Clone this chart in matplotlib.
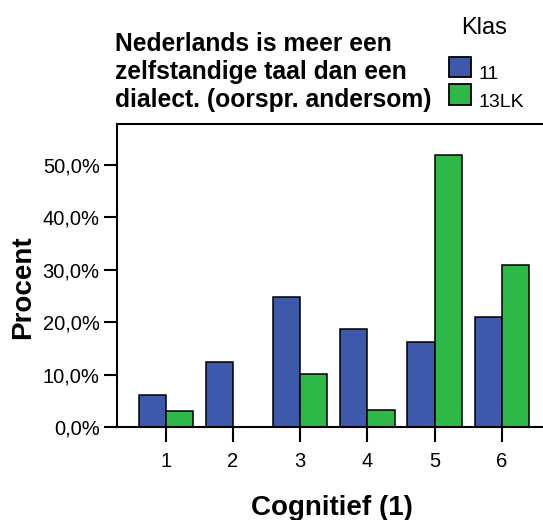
import matplotlib
matplotlib.use("Agg")
import matplotlib.pyplot as plt
from matplotlib.ticker import FuncFormatter
from matplotlib.transforms import ScaledTranslation
import numpy as np

# Gegevens (percentages per klas)
categories = ["1", "2", "3", "4", "5", "6"]
klas_11 = [6.1, 12.4, 24.9, 18.7, 16.3, 21.0]
klas_13lk = [3.2, 0.0, 10.2, 3.3, 51.8, 30.9]
series_labels = ["11", "13LK"]
yticks = [0, 10, 20, 30, 40, 50]

title = "Nederlands is meer een\nzelfstandige taal dan een\ndialect. (oorspr. andersom)"

plt.rcParams["font.family"] = ["Liberation Sans", "DejaVu Sans"]

fig = plt.figure(figsize=(5.43, 5.20), dpi=100)
ax = fig.add_axes([117 / 543, 1 - 427.3 / 520, 428 / 543, 303.3 / 520])

x = np.arange(1, len(categories) + 1)
w = 0.405
b1 = ax.bar(x - w / 2, klas_11, width=w, color="#3e58ac", edgecolor="black",
            linewidth=1.1, label=series_labels[0])
b2 = ax.bar(x + w / 2, klas_13lk, width=w, color="#2eb848", edgecolor="black",
            linewidth=1.1, label=series_labels[1])

ax.set_xlim(0.275, 6.64)
ax.set_ylim(0, 57.8)
ax.set_xticks(x)
ax.set_xticklabels(categories)
ax.set_yticks(yticks)
ax.yaxis.set_major_formatter(FuncFormatter(lambda v, p: f"{v:.1f}%".replace(".", ",")))

for s in ax.spines.values():
    s.set_linewidth(1.5)
ax.spines["right"].set_visible(False)
ax.tick_params(axis="x", length=11, width=1.5, pad=7, labelsize=14.5)
ax.tick_params(axis="y", length=9.5, width=1.5, pad=3, labelsize=14.5)

ax.set_ylabel("Procent", fontsize=20, fontweight="bold")
ax.yaxis.set_label_coords(-0.188, 0.463)
ax.set_xlabel("Cognitief (1)", fontsize=20, fontweight="bold")
ax.xaxis.set_label_coords(0.502, -0.223)

fig.text(115 / 543, 1 - 32 / 520, title, fontsize=17.7, fontweight="bold",
         ha="left", va="top", linespacing=1.22)

# legenda: titel los, vakjes eronder
fig.text(484 / 543, 1 - 17 / 520, "Klas", fontsize=17, ha="center", va="top")
leg = fig.legend(handles=[b1, b2], loc="upper left",
                 bbox_to_anchor=(449 / 543, 1 - 56.7 / 520), frameon=False,
                 fontsize=14, borderpad=0, borderaxespad=0,
                 handlelength=1.13, handleheight=1.24, labelspacing=0.35,
                 handletextpad=0.38)
for h in leg.legend_handles:
    h.set_linewidth(1.3)
# labels iets lager, zoals in het origineel
for t in leg.get_texts():
    t.set_transform(t.get_transform() + ScaledTranslation(0, -4 / 72, fig.dpi_scale_trans))

fig.savefig("out.png", dpi=100)
